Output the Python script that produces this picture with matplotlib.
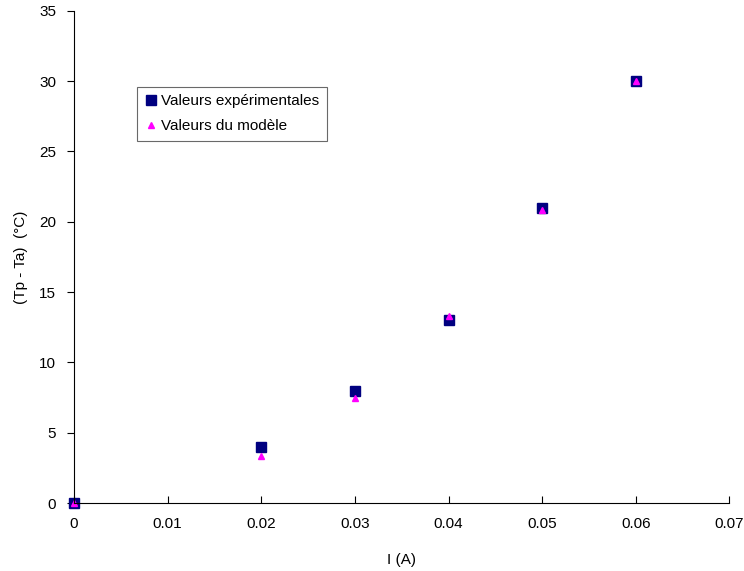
import matplotlib
matplotlib.use("Agg")
import matplotlib.pyplot as plt

plt.rcParams['font.family'] = ['Liberation Sans', 'DejaVu Sans']

# données
courant = [0, 0.02, 0.03, 0.04, 0.05, 0.06]
dT_exp = [0, 4, 8, 13, 21, 30]
dT_mod = [0, 3.33, 7.5, 13.33, 20.83, 30]

fig = plt.figure(figsize=(7.44, 5.71), dpi=100)
ax = fig.add_axes([0.0995, 0.119, 0.881, 0.862])

ax.plot(courant, dT_exp, linestyle='none', marker='s', markersize=7.5,
        color='#000080', label='Valeurs expérimentales', clip_on=False)
ax.plot(courant, dT_mod, linestyle='none', marker='^', markersize=5,
        color='#ff00ff', label='Valeurs du modèle', clip_on=False)

ax.set_xlim(0, 0.07)
ax.set_ylim(0, 35)
ax.set_xticks([0, 0.01, 0.02, 0.03, 0.04, 0.05, 0.06, 0.07])
ax.set_xticklabels(['0', '0.01', '0.02', '0.03', '0.04', '0.05', '0.06', '0.07'])
ax.set_yticks(range(0, 36, 5))

ax.spines['top'].set_visible(False)
ax.spines['right'].set_visible(False)
ax.tick_params(axis='x', direction='in', length=5, labelsize=11, pad=10)
ax.tick_params(axis='y', direction='out', length=5, labelsize=11, pad=8)

ax.set_xlabel('I (A)', fontsize=11, labelpad=16)
ax.set_ylabel('(Tp - Ta)  (°C)', fontsize=11, labelpad=8)

leg = ax.legend(loc='upper left', bbox_to_anchor=(0.096, 0.846), fontsize=11,
                frameon=True, fancybox=False, edgecolor='#444444',
                handlelength=0.8, handletextpad=0.3, borderpad=0.5,
                labelspacing=0.7, borderaxespad=0)
leg.get_frame().set_linewidth(0.8)

fig.savefig('out.png', dpi=100)
